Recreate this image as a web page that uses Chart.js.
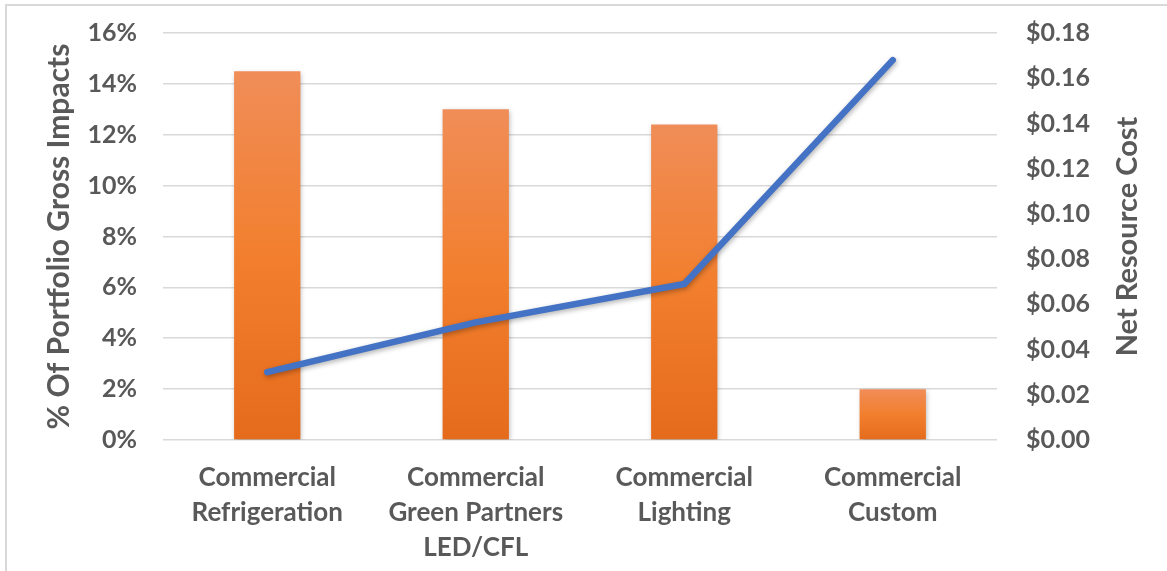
<!DOCTYPE html>
<html>
<head>
<meta charset="utf-8">
<script src="https://cdn.jsdelivr.net/npm/chart.js@4/dist/chart.umd.min.js"></script>
<style>
  html, body { margin: 0; padding: 0; background: #fff; }
  #wrap { position: relative; width: 1167px; height: 571px; overflow: hidden; }
  #frame { position: absolute; left: 5px; top: 4px; width: 1300px; height: 700px; border: 2px solid #d9d9d9; box-sizing: border-box; }
  #chart { position: absolute; left: 0; top: 0; }
</style>
</head>
<body>
<div id="wrap">
  <div id="frame"></div>
  <canvas id="chart" width="1167" height="571"></canvas>
</div>
<script>
// program categories, split into label lines
const categories = [
  ['Commercial', 'Refrigeration'],
  ['Commercial', 'Green Partners', 'LED/CFL'],
  ['Commercial', 'Lighting'],
  ['Commercial', 'Custom'],
];
// share of portfolio gross impacts (%)
const grossImpactPct = [14.5, 13.0, 12.4, 2.0];
// net resource cost ($)
const netResourceCost = [0.030, 0.052, 0.069, 0.168];

const pctTicks = { min: 0, max: 16, step: 2 };
const costTicks = { min: 0, max: 0.18, step: 0.02 };

const textColor = '#595959';
const gridColor = '#d9d9d9';
const fontFamily = 'Lato, "Open Sans", sans-serif';
const rightTitleFont = 'bold 29px ' + fontFamily;

// orange bars fade from light at the top to darker at the base
const barFill = (context) => {
  const chart = context.chart;
  const yScale = chart.scales.y;
  if (!yScale || context.raw == null) return '#ee7d31';
  const top = yScale.getPixelForValue(context.raw);
  const base = yScale.getPixelForValue(0);
  if (!isFinite(top) || !isFinite(base) || top === base) return '#ee7d31';
  const g = chart.ctx.createLinearGradient(0, top, 0, base);
  g.addColorStop(0, '#f08d58');
  g.addColorStop(0.5, '#f27f2e');
  g.addColorStop(1, '#e56b1c');
  return g;
};

// soft drop shadow under bars and line
const shadowPlugin = {
  id: 'shadow',
  beforeDatasetDraw(chart) {
    const ctx = chart.ctx;
    ctx.save();
    ctx.shadowColor = 'rgba(0, 0, 0, 0.3)';
    ctx.shadowBlur = 5;
    ctx.shadowOffsetX = 1;
    ctx.shadowOffsetY = 2;
  },
  afterDatasetDraw(chart) {
    chart.ctx.restore();
  },
};

// right axis title, reading bottom-to-top like the left one
const rightTitlePlugin = {
  id: 'rightTitle',
  afterDraw(chart) {
    const { ctx, chartArea } = chart;
    const scale = chart.scales.y1;
    ctx.save();
    ctx.translate(scale.right - 39, (chartArea.top + chartArea.bottom) / 2);
    ctx.rotate(-Math.PI / 2);
    ctx.font = rightTitleFont;
    ctx.fillStyle = textColor;
    ctx.textAlign = 'center';
    ctx.textBaseline = 'middle';
    ctx.fillText('Net Resource Cost', 0, 0);
    ctx.restore();
  },
};

// fixed axis widths; drop the extra room Chart.js reserves above the top tick
const fitVertical = (width) => (scale) => {
  scale.width = width;
  scale.paddingTop = 0;
  scale.paddingBottom = 0;
};

new Chart(document.getElementById('chart'), {
  data: {
    labels: categories,
    datasets: [
      {
        type: 'line',
        data: netResourceCost,
        yAxisID: 'y1',
        borderColor: '#4472c4',
        borderWidth: 6.5,
        borderCapStyle: 'round',
        borderJoinStyle: 'round',
        pointRadius: 0,
        tension: 0,
        order: 0,
      },
      {
        type: 'bar',
        data: grossImpactPct,
        yAxisID: 'y',
        backgroundColor: barFill,
        borderWidth: 0,
        barPercentage: 1,
        categoryPercentage: 0.318,
        order: 1,
      },
    ],
  },
  options: {
    responsive: false,
    devicePixelRatio: 1,
    animation: false,
    layout: { padding: { top: 33, bottom: 0, left: 0, right: 0 } },
    plugins: {
      legend: { display: false },
      tooltip: { enabled: false },
    },
    scales: {
      x: {
        grid: { display: false, drawTicks: false },
        border: { display: false },
        ticks: {
          color: textColor,
          padding: 20,
          maxRotation: 0,
          autoSkip: false,
          font: { family: fontFamily, size: 26, weight: 'bold', lineHeight: 1.35 },
        },
        afterFit: (scale) => { scale.height = 131; },
      },
      y: {
        position: 'left',
        min: pctTicks.min,
        max: pctTicks.max,
        grid: { color: gridColor, lineWidth: 1.6, drawTicks: false },
        border: { display: false },
        ticks: {
          stepSize: pctTicks.step,
          padding: 26,
          color: textColor,
          font: { family: fontFamily, size: 25, weight: 'bold' },
          callback: (v) => v + '%',
        },
        title: {
          display: true,
          text: '% Of Portfolio Gross Impacts',
          color: textColor,
          font: { family: fontFamily, size: 30, weight: 'bold' },
          padding: { top: 41, bottom: 0 },
        },
        afterFit: fitVertical(163),
      },
      y1: {
        position: 'right',
        min: costTicks.min,
        max: costTicks.max,
        grid: { drawOnChartArea: false, drawTicks: false },
        border: { display: false },
        ticks: {
          stepSize: costTicks.step,
          padding: 29,
          color: textColor,
          font: { family: fontFamily, size: 25, weight: 'bold' },
          callback: (v) => '$' + Number(v).toFixed(2),
        },
        afterFit: fitVertical(170),
      },
    },
  },
  plugins: [shadowPlugin, rightTitlePlugin],
});
</script>
</body>
</html>
